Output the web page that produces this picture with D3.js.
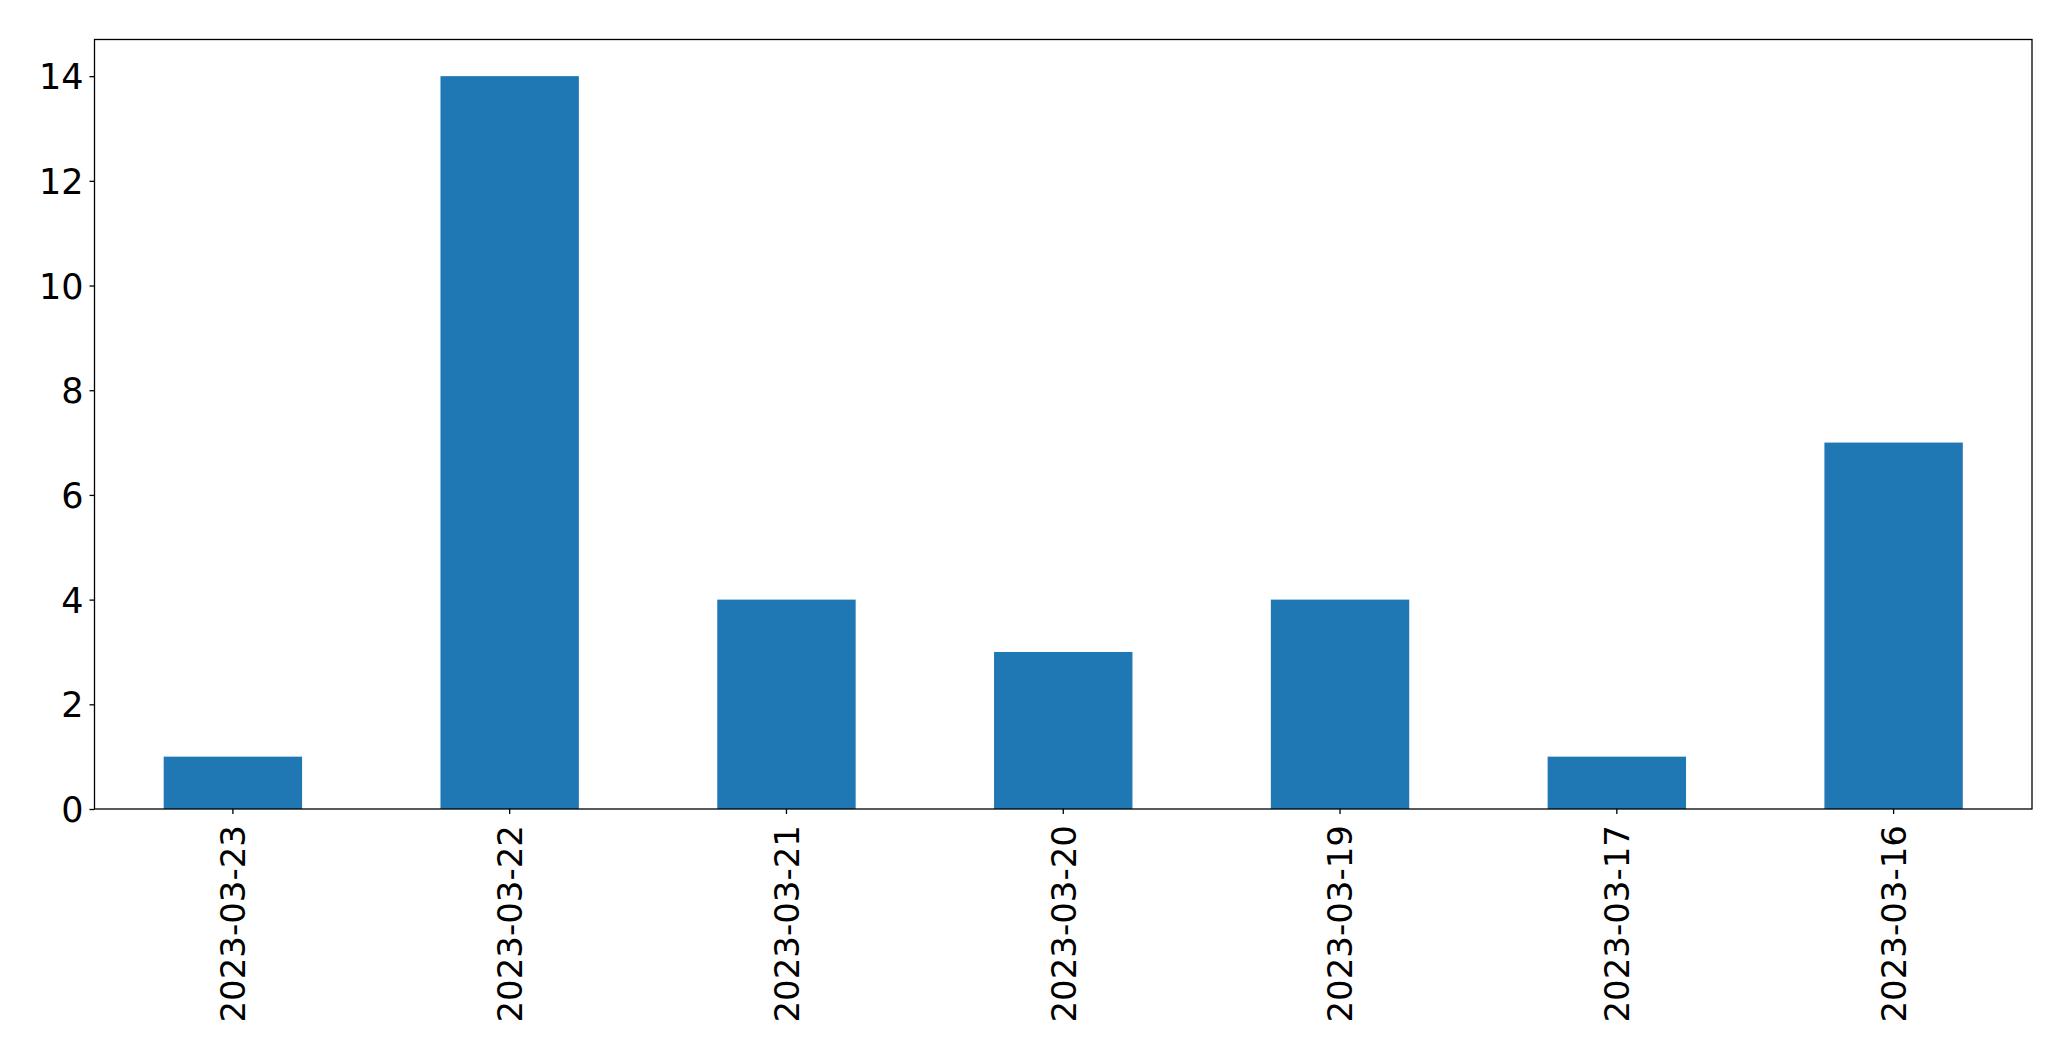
<!DOCTYPE html>
<html>
<head>
<meta charset="utf-8">
<script src="https://cdn.jsdelivr.net/npm/d3@7"></script>
<style>
  html, body { margin: 0; padding: 0; background: #fff; }
  svg { display: block; }
  .tick text { font-family: "DejaVu Sans", sans-serif; fill: #000; }
</style>
</head>
<body>
<div id="chart"></div>
<script>
const categories = ["2023-03-23", "2023-03-22", "2023-03-21", "2023-03-20", "2023-03-19", "2023-03-17", "2023-03-16"];
const counts = [1, 14, 4, 3, 4, 1, 7];
const yTicks = [0, 2, 4, 6, 8, 10, 12, 14];

const W = 2071, H = 1061;
const margin = { left: 94.5, right: W - 2032, top: 39.5, bottom: H - 809 };
const iw = W - margin.left - margin.right;
const ih = H - margin.top - margin.bottom;

const svg = d3.select("#chart").append("svg").attr("width", W).attr("height", H);
const g = svg.append("g").attr("transform", `translate(${margin.left},${margin.top})`);

const x = d3.scaleBand().domain(categories).range([0, iw]).paddingInner(0.5).paddingOuter(0.25);
const y = d3.scaleLinear().domain([0, 14.7]).range([ih, 0]);

g.selectAll("rect.bar").data(categories).join("rect")
  .attr("class", "bar")
  .attr("x", d => x(d))
  .attr("width", x.bandwidth())
  .attr("y", (d, i) => y(counts[i]))
  .attr("height", (d, i) => y(0) - y(counts[i]))
  .attr("fill", "#1f77b4");

const yAxis = g.append("g")
  .call(d3.axisLeft(y).tickValues(yTicks).tickSize(5).tickPadding(6).tickFormat(d3.format("d")));
yAxis.select(".domain").remove();
yAxis.selectAll(".tick line").attr("stroke", "#000").attr("stroke-width", 1.3);
yAxis.selectAll(".tick text").attr("font-size", 35).attr("dy", "0.36em");

const xAxis = g.append("g").attr("transform", `translate(0,${ih})`)
  .call(d3.axisBottom(x).tickSize(5).tickPadding(0));
xAxis.select(".domain").remove();
xAxis.selectAll(".tick line").attr("stroke", "#000").attr("stroke-width", 1.3);
xAxis.selectAll(".tick text")
  .attr("font-size", 34)
  .attr("text-anchor", "end")
  .attr("dy", "0.36em")
  .attr("y", 0)
  .attr("x", -16)
  .attr("transform", "rotate(-90)");

// frame
g.append("rect").attr("x", 0).attr("y", 0).attr("width", iw).attr("height", ih)
  .attr("fill", "none").attr("stroke", "#000").attr("stroke-width", 1.3);
</script>
</body>
</html>
